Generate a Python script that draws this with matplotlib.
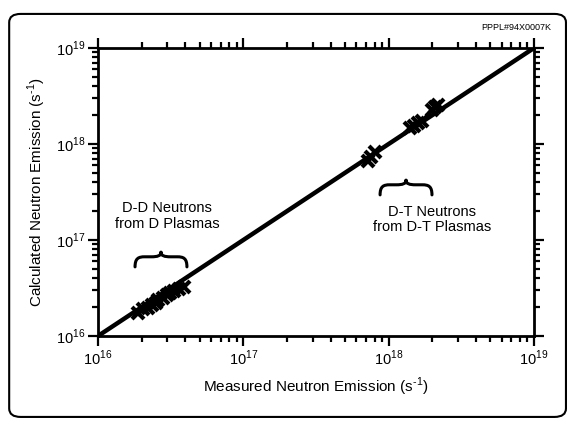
import matplotlib
matplotlib.use("Agg")
import matplotlib.pyplot as plt
from matplotlib.patches import FancyBboxPatch, PathPatch
from matplotlib.path import Path
from matplotlib.ticker import LogLocator, FixedLocator

plt.rcParams['font.family'] = ['Liberation Sans', 'DejaVu Sans']
plt.rcParams['mathtext.fontset'] = 'custom'
plt.rcParams['mathtext.rm'] = 'Liberation Sans'

# Data
dd_measured = [1.9e16, 2.05e16, 2.2e16, 2.35e16, 2.5e16, 2.6e16, 2.8e16, 3.0e16, 3.15e16, 3.35e16, 3.6e16, 3.9e16]
dd_calc = [1.75e16, 1.9e16, 1.95e16, 2.1e16, 2.2e16, 2.35e16, 2.5e16, 2.65e16, 2.8e16, 2.95e16, 3.1e16, 3.2e16]
dt_measured = [7.2e17, 7.6e17, 8.0e17, 1.4e18, 1.5e18, 1.6e18, 1.7e18, 2.0e18, 2.1e18, 2.2e18]
dt_calc = [6.6e17, 7.4e17, 8.2e17, 1.45e18, 1.55e18, 1.65e18, 1.75e18, 2.25e18, 2.4e18, 2.55e18]
line_range = [1e16, 1e19]
major_ticks = [1e16, 1e17, 1e18, 1e19]
tick_labels = [r"10$^{16}$", r"10$^{17}$", r"10$^{18}$", r"10$^{19}$"]

fig = plt.figure(figsize=(5.74, 4.22), dpi=100)
ax = fig.add_axes([0.1707, 0.2038, 0.7596, 0.6825])

# outer rounded frame
frame = FancyBboxPatch((0.016, 0.012), 0.97, 0.955, boxstyle="round,pad=0,rounding_size=0.02",
                       transform=fig.transFigure, facecolor="none", edgecolor="black", linewidth=1.5)
fig.patches.append(frame)

ax.plot(line_range, line_range, color="black", linewidth=3.2, solid_capstyle="butt", zorder=3)
ax.plot(dd_measured, dd_calc, linestyle="none", marker="x", markersize=9, markeredgewidth=3, color="black", zorder=4)
ax.plot(dt_measured, dt_calc, linestyle="none", marker="x", markersize=9, markeredgewidth=3, color="black", zorder=4)

ax.set_xscale("log")
ax.set_yscale("log")
ax.set_xlim(line_range)
ax.set_ylim(line_range)
ax.xaxis.set_major_locator(FixedLocator(major_ticks))
ax.yaxis.set_major_locator(FixedLocator(major_ticks))
ax.xaxis.set_minor_locator(LogLocator(base=10, subs=range(2, 10)))
ax.yaxis.set_minor_locator(LogLocator(base=10, subs=range(2, 10)))
ax.set_xticklabels(tick_labels)
ax.set_yticklabels(tick_labels)

for s in ax.spines.values():
    s.set_linewidth(2)
ax.tick_params(which="both", direction="out", top=True, right=True, labeltop=False, labelright=False,
               width=1.6, labelsize=10.5, pad=2)
ax.tick_params(which="major", length=7)
ax.tick_params(which="minor", length=4)

ax.set_xlabel(r"Measured Neutron Emission (s$^{\text{-}1}$)", fontsize=11, labelpad=6)
ax.set_ylabel(r"Calculated Neutron Emission (s$^{\text{-}1}$)", fontsize=11, labelpad=6)


def brace(x0, x1, y, h):
    # curly brace, ends curl down, point up (axes fraction coords)
    xm = (x0 + x1) / 2
    q = 0.022
    verts = [(x0, y - h), (x0, y - h * 0.15), (x0 + 0.008, y), (x0 + q, y),
             (xm - q, y), (xm - 0.008, y), (xm, y + h * 0.1), (xm, y + h * 0.45),
             (xm, y + h * 0.45), (xm, y + h * 0.1), (xm + 0.008, y), (xm + q, y),
             (x1 - q, y), (x1 - 0.008, y), (x1, y - h * 0.15), (x1, y - h)]
    codes = [Path.MOVETO, Path.CURVE4, Path.CURVE4, Path.CURVE4,
             Path.LINETO, Path.CURVE4, Path.CURVE4, Path.CURVE4,
             Path.MOVETO, Path.CURVE4, Path.CURVE4, Path.CURVE4,
             Path.LINETO, Path.CURVE4, Path.CURVE4, Path.CURVE4]
    ax.add_patch(PathPatch(Path(verts, codes), transform=ax.transAxes, facecolor="none",
                           edgecolor="black", linewidth=2.2, capstyle="round"))


brace(0.085, 0.204, 0.275, 0.035)
brace(0.647, 0.766, 0.525, 0.035)

ax.text(0.158, 0.417, "D-D Neutrons\nfrom D Plasmas", transform=ax.transAxes, ha="center", va="center",
        fontsize=10.5, linespacing=1.15)
ax.text(0.766, 0.405, "D-T Neutrons\nfrom D-T Plasmas", transform=ax.transAxes, ha="center", va="center",
        fontsize=10.5, linespacing=1.15)

fig.text(0.96, 0.934, "PPPL#94X0007K", ha="right", va="center", fontsize=6.5)

fig.savefig("out.png", dpi=100)
